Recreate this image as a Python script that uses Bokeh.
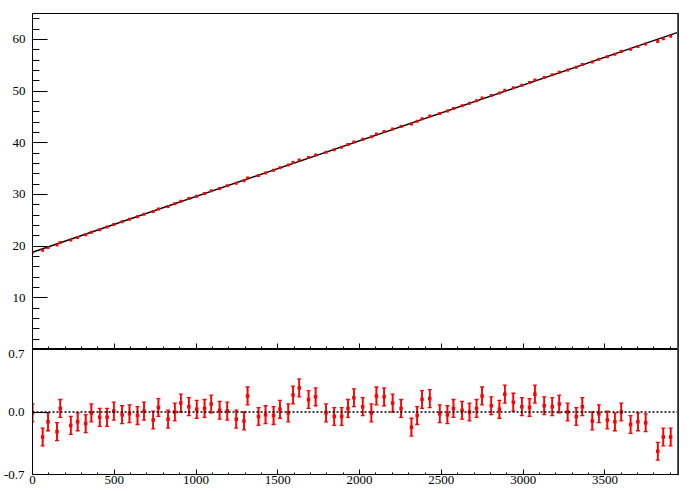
from bokeh.plotting import figure
from bokeh.layouts import column
from bokeh.models import (Range1d, SingleIntervalTicker, FixedTicker, PrintfTickFormatter,
                          ColumnDataSource, Whisker, TeeHead, Span, CustomLabelingPolicy)
from bokeh.embed import file_html
from bokeh.resources import INLINE

# ---- data ----
x_vals = [0, 62, 95, 150, 170, 234, 276, 325, 360, 411, 456, 497, 548, 593, 642, 682, 738, 770, 829, 870,
          907, 956, 1004, 1052, 1093, 1144, 1191, 1246, 1293, 1315, 1382, 1425, 1474, 1513, 1564, 1593, 1631,
          1688, 1731, 1795, 1845, 1890, 1929, 1965, 2019, 2072, 2103, 2150, 2202, 2254, 2317, 2352, 2382,
          2429, 2490, 2537, 2574, 2627, 2672, 2715, 2749, 2805, 2855, 2888, 2940, 2992, 3039, 3072, 3129,
          3178, 3221, 3272, 3325, 3362, 3423, 3463, 3515, 3561, 3600, 3657, 3702, 3749, 3823, 3857, 3902]
y_vals = [18.81, 19.21, 19.73, 20.22, 20.69, 21.19, 21.69, 22.19, 22.69, 23.19,
          23.68, 24.19, 24.70, 25.19, 25.70, 26.18, 26.69, 27.17, 27.68, 28.20,
          28.70, 29.19, 29.67, 30.20, 30.69, 31.17, 31.67, 32.17, 32.66, 33.18,
          33.67, 34.15, 34.67, 35.16, 35.67, 36.18, 36.67, 37.16, 37.65, 38.16,
          38.66, 39.14, 39.65, 40.16, 40.65, 41.15, 41.67, 42.17, 42.66, 43.16,
          43.63, 44.14, 44.64, 45.16, 45.64, 46.14, 46.61, 47.16, 47.62, 48.13,
          48.63, 49.13, 49.63, 50.15, 50.62, 51.13, 51.63, 52.14, 52.62, 53.14,
          53.63, 54.09, 54.61, 55.12, 55.62, 56.13, 56.62, 57.10, 57.63, 58.10,
          58.62, 59.11, 59.59, 60.12, 60.60]
residuals = [-0.01, -0.28, -0.11, -0.22, 0.04, -0.15, -0.11, -0.13, -0.01, -0.06,
             -0.06, 0.01, -0.03, -0.02, -0.04, 0.01, -0.09, 0.05, -0.08, 0.00,
             0.10, 0.06, 0.03, 0.04, 0.09, 0.02, 0.01, -0.08, -0.10, 0.18,
             -0.05, -0.03, -0.04, 0.03, -0.01, 0.19, 0.27, 0.14, 0.17, -0.01,
             -0.05, -0.05, 0.04, 0.16, 0.06, -0.01, 0.18, 0.17, 0.10, 0.04,
             -0.17, -0.04, 0.14, 0.15, -0.02, -0.03, 0.04, 0.02, 0.00, 0.04,
             0.18, 0.07, 0.03, 0.20, 0.11, 0.06, 0.05, 0.20, 0.07, 0.06,
             0.09, 0.00, -0.05, 0.06, -0.10, -0.02, -0.09, -0.11, 0.00, -0.14,
             -0.11, -0.12, -0.44, -0.28, -0.28]
res_err = [0.10] * len(residuals)
fit_x = [0, 3950]
fit_y = [18.82, 61.40]

FONT = "Liberation Serif"
FS = "13px"
RED = "#ff0000"

hide_all = CustomLabelingPolicy(code="""
const all = [...indices]
for (const i of all) { indices.unset(i) }
return indices
""")
hide_first = CustomLabelingPolicy(code="""
indices.unset(0)
return indices
""")

# ---- top panel ----
top = figure(width=689, height=349, frame_width=646, frame_height=336,
             min_border_left=30, min_border_right=13, min_border_top=13, min_border_bottom=0,
             output_backend="svg", toolbar_location=None,
             x_range=Range1d(0, 3950), y_range=Range1d(0, 65))
top.grid.visible = False
top.outline_line_color = "black"
top.outline_line_width = 1
top.background_fill_color = "white"
top.border_fill_color = "white"

ya = top.yaxis[0]
ya.ticker = SingleIntervalTicker(interval=10, num_minor_ticks=5)
ya.major_tick_in = 15
ya.major_tick_out = 0
ya.minor_tick_in = 7
ya.minor_tick_out = 0
ya.major_label_standoff = 7
ya.major_label_text_font = FONT
ya.major_label_text_font_size = FS
ya.major_label_text_color = "black"
ya.major_label_policy = hide_first
ya.axis_line_color = "black"

xa = top.xaxis[0]
xa.ticker = SingleIntervalTicker(interval=500, num_minor_ticks=5)
xa.major_tick_in = 6
xa.major_tick_out = 0
xa.minor_tick_in = 3
xa.minor_tick_out = 0
xa.major_label_text_font_size = "0px"
xa.major_label_standoff = 0
xa.major_label_policy = hide_all
xa.axis_line_color = "black"

top.line(fit_x, fit_y, line_color="black", line_width=1.5)
top.scatter(x_vals, y_vals, marker="square", size=3, fill_color=RED, line_color=None)
top.add_layout(Span(location=3950, dimension="height", line_color="#555555", line_width=3))

# ---- residual panel ----
bot = figure(width=689, height=141, frame_width=646, frame_height=125,
             min_border_left=30, min_border_right=13, min_border_top=0, min_border_bottom=0,
             output_backend="svg", toolbar_location=None,
             x_range=top.x_range, y_range=Range1d(-0.7, 0.7))
bot.grid.visible = False
bot.outline_line_color = "black"
bot.outline_line_width = 1
bot.background_fill_color = "white"
bot.border_fill_color = "white"

yb = bot.yaxis[0]
yb.ticker = FixedTicker(ticks=[-0.7, 0.0, 0.7], minor_ticks=[])
yb.formatter = PrintfTickFormatter(format="%.1f")
yb.major_tick_in = 16
yb.major_tick_out = 0
yb.minor_tick_in = 0
yb.minor_tick_out = 0
yb.major_label_standoff = 8
yb.major_label_text_font = FONT
yb.major_label_text_font_size = FS
yb.major_label_text_color = "black"
yb.axis_line_color = "black"

xb = bot.xaxis[0]
xb.ticker = SingleIntervalTicker(interval=500, num_minor_ticks=5)
xb.major_tick_in = 5
xb.major_tick_out = 0
xb.minor_tick_in = 2
xb.minor_tick_out = 0
xb.major_label_standoff = 1
xb.major_label_text_font = FONT
xb.major_label_text_font_size = FS
xb.major_label_text_color = "black"
xb.axis_line_color = "black"

bot.add_layout(Span(location=0, dimension="width", line_color="black", line_width=1.5, line_dash="2 2"))
bot.add_layout(Span(location=3950, dimension="height", line_color="#555555", line_width=3))

src = ColumnDataSource(dict(
    x=x_vals, r=residuals,
    lo=[r - e for r, e in zip(residuals, res_err)],
    hi=[r + e for r, e in zip(residuals, res_err)],
))
bot.segment(x0="x", y0="lo", x1="x", y1="hi", source=src, line_color=RED, line_width=1.6)
bot.add_layout(Whisker(source=src, base="x", upper="hi", lower="lo", dimension="height",
                       line_color=RED, line_width=1.6,
                       upper_head=TeeHead(size=4, line_color=RED, line_width=1.3),
                       lower_head=TeeHead(size=4, line_color=RED, line_width=1.3)))
bot.scatter("x", "r", source=src, marker="square", size=3.5, fill_color=RED, line_color=None)

layout = column(top, bot, spacing=0)
open("out.html", "w").write(file_html(layout, INLINE))
